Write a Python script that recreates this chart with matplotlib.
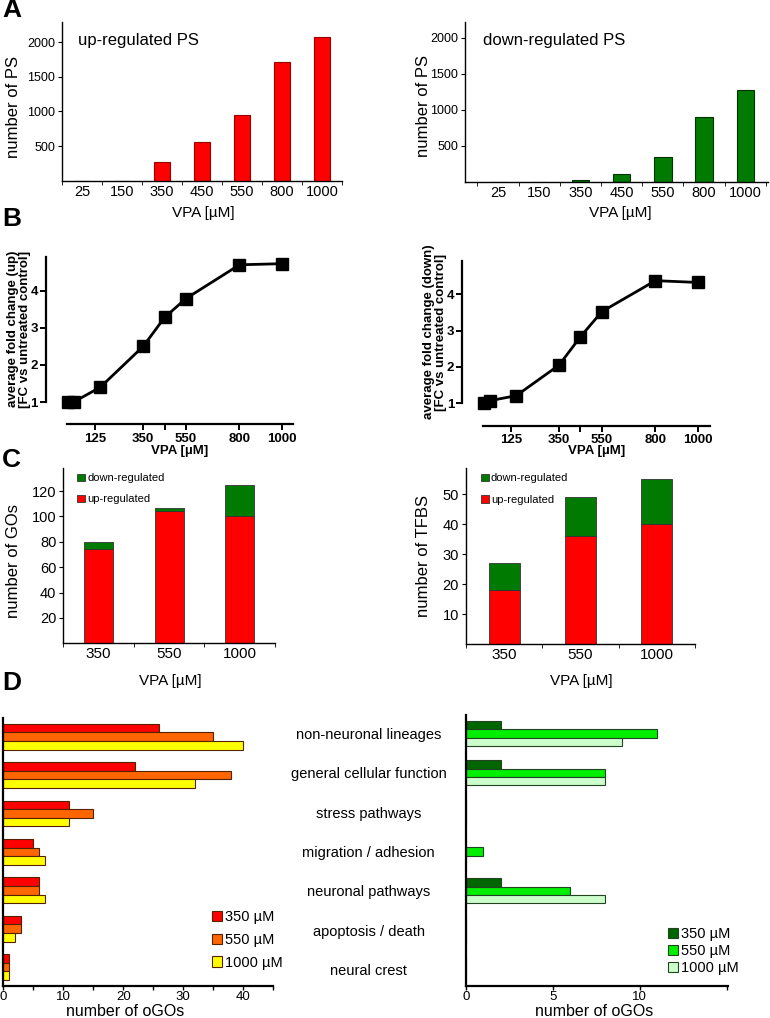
import numpy as np
import matplotlib.pyplot as plt
from matplotlib.patches import Patch

plt.rcParams['font.family'] = ['Liberation Sans', 'DejaVu Sans']

W, H = 770, 1018

# panel A: number of probe sets
doses_a = ['25', '150', '350', '450', '550', '800', '1000']
up_ps = [0, 0, 270, 560, 950, 1720, 2070]
down_ps = [0, 0, 30, 110, 340, 900, 1270]

# panel B: average fold change
vpa_b = [0, 25, 150, 350, 450, 550, 800, 1000]
fc_up = [1.0, 1.0, 1.4, 2.5, 3.28, 3.79, 4.70, 4.73]
fc_down = [1.0, 1.07, 1.21, 2.05, 2.83, 3.52, 4.37, 4.32]
b_ticks = [125, 350, 450, 550, 800, 1000]
b_ticklabels = ['125', '350', '', '550', '800', '1000']

# panel C: GOs and TFBS
doses_c = ['350', '550', '1000']
go_up = [74, 104, 100]
go_down = [6, 3, 25]
tfbs_up = [18, 36, 40]
tfbs_down = [9, 13, 15]

# panel D: oGOs per category
categories = ['non-neuronal lineages', 'general cellular function', 'stress pathways',
              'migration / adhesion', 'neuronal pathways', 'apoptosis / death', 'neural crest']
dose_labels = ['350 µM', '550 µM', '1000 µM']
up_350 = [26, 22, 11, 5, 6, 3, 1]
up_550 = [35, 38, 15, 6, 6, 3, 1]
up_1000 = [40, 32, 11, 7, 7, 2, 1]
down_350 = [2, 2, 0, 0, 2, 0, 0]
down_550 = [11, 8, 0, 1, 6, 0, 0]
down_1000 = [9, 8, 0, 0, 8, 0, 0]

RED = '#FF0000'
GREEN = '#007A00'

fig = plt.figure(figsize=(W / 100, H / 100), dpi=100)


def px_axes(l, t, r, b):
    return fig.add_axes([l / W, 1 - b / H, (r - l) / W, (b - t) / H])


def ftext(x, y, s, **kw):
    return fig.text(x / W, 1 - y / H, s, **kw)


def clean(ax, lw=1.0):
    ax.spines['top'].set_visible(False)
    ax.spines['right'].set_visible(False)
    for s in ('left', 'bottom'):
        ax.spines[s].set_linewidth(lw)


# ---- A ----
def panel_a(box, vals, color, edge, xlim, ytop, title, title_xy):
    ax = px_axes(*box)
    x = np.arange(len(doses_a))
    ax.bar(x, vals, width=0.42, color=color, edgecolor=edge, linewidth=0.8)
    ax.set_xlim(*xlim)
    ax.set_ylim(0, ytop)
    ax.set_xticks(x)
    ax.set_xticklabels(doses_a, fontsize=10.5)
    ax.tick_params(axis='x', which='major', length=0, pad=3)
    ax.set_xticks(np.arange(-0.5, len(doses_a)), minor=True)
    ax.tick_params(axis='x', which='minor', length=3, direction='out')
    ax.set_yticks([500, 1000, 1500, 2000])
    ax.tick_params(axis='y', labelsize=9, length=3, pad=2)
    clean(ax, 1.0)
    ftext(*title_xy, title, fontsize=12, ha='left', va='center')
    return ax


panel_a((62, 22, 342, 180.7), up_ps, RED, '#990000', (-0.5, 6.5), 2290,
        'up-regulated PS', (78, 40))
panel_a((465, 21.7, 768, 181.7), down_ps, GREEN, '#003300', (-0.8, 6.55), 2222,
        'down-regulated PS', (483, 40))
ftext(14, 107, 'number of PS', rotation=90, fontsize=12, ha='center', va='center')
ftext(423, 106, 'number of PS', rotation=90, fontsize=12, ha='center', va='center')
ftext(203, 213, 'VPA [µM]', fontsize=11, ha='center', va='center')
ftext(620, 213, 'VPA [µM]', fontsize=11, ha='center', va='center')


# ---- B ----
def panel_b(box, yvals, xlim, ylabel, ylab_xy, xlab_xy):
    ax = px_axes(*box)
    ax.plot(vpa_b, yvals, color='black', lw=2, marker='s', ms=8, clip_on=False)
    ax.set_xlim(*xlim)
    ax.set_ylim(1, 4.91)
    ax.spines['left'].set_position(('outward', 15))
    ax.spines['bottom'].set_position(('outward', 16))
    clean(ax, 1.6)
    ax.set_xticks(b_ticks)
    ax.set_xticklabels(b_ticklabels)
    ax.set_yticks([1, 2, 3, 4])
    ax.tick_params(length=4, width=1.4, labelsize=9.5, pad=2)
    for lbl in ax.get_xticklabels() + ax.get_yticklabels():
        lbl.set_fontweight('bold')
    ftext(*ylab_xy, ylabel, rotation=90, fontsize=9.5, fontweight='bold',
          ha='center', va='center', linespacing=1.1)
    ftext(*xlab_xy, 'VPA [µM]', fontsize=9.5, fontweight='bold', ha='center', va='center')


panel_b((67, 257, 293, 402), fc_up, (-6, 1050),
        'average fold change (up)\n[FC vs untreated control]', (19, 329), (180, 451))
panel_b((483.3, 261, 710, 403.3), fc_down, (-4, 1055),
        'average fold change (down)\n[FC vs untreated control]', (435, 332), (597, 451))


# ---- C ----
def panel_c(box, up, down, ytop, yticks, ylabel, ylab_xy, xlab_xy):
    ax = px_axes(*box)
    x = np.arange(len(doses_c))
    ax.bar(x, up, width=0.41, color=RED, edgecolor='#333333', linewidth=0.6)
    ax.bar(x, down, width=0.41, bottom=up, color=GREEN, edgecolor='#333333', linewidth=0.6)
    ax.set_xlim(-0.5, 2.5)
    ax.set_ylim(0, ytop)
    ax.set_xticks(x)
    ax.set_xticklabels(doses_c, fontsize=11)
    ax.tick_params(axis='x', which='major', length=0, pad=3)
    ax.set_xticks(np.arange(-0.5, 3), minor=True)
    ax.tick_params(axis='x', which='minor', length=3, direction='out')
    ax.set_yticks(yticks)
    ax.tick_params(axis='y', labelsize=10.5, length=3, pad=2)
    clean(ax, 1.0)
    handles = [Patch(facecolor=GREEN, edgecolor='#333333', lw=0.6, label='down-regulated'),
               Patch(facecolor=RED, edgecolor='#333333', lw=0.6, label='up-regulated')]
    ax.legend(handles=handles, loc='upper left', bbox_to_anchor=(0.05, 0.99),
              frameon=False, fontsize=8, handlelength=0.7, handleheight=0.7,
              handletextpad=0.2, labelspacing=1.0, borderaxespad=0.3, borderpad=0)
    ftext(*ylab_xy, ylabel, rotation=90, fontsize=12, ha='center', va='center')
    ftext(*xlab_xy, 'VPA [µM]', fontsize=11, ha='center', va='center')


panel_c((63.3, 468.3, 275, 643.3), go_up, go_down, 138, [20, 40, 60, 80, 100, 120],
        'number of GOs', (14, 561), (170, 681))
panel_c((466, 468.3, 695, 644), tfbs_up, tfbs_down, 58.6, [10, 20, 30, 40, 50],
        'number of TFBS', (423, 556), (581, 681))


# ---- D ----
def panel_d(box, series, colors, edge, xlim, ylim, h, major, minor, labels,
            legend_xy, legend_spacing, xlab_xy):
    ax = px_axes(*box)
    y = np.arange(len(categories))
    for i, (vals, col) in enumerate(zip(series, colors)):
        ax.barh(y + (i - 1) * h, vals, height=h, color=col, edgecolor=edge, linewidth=0.8,
                label=dose_labels[i])
    ax.set_xlim(*xlim)
    ax.set_ylim(*ylim)
    ax.set_xticks(major)
    ax.set_xticklabels(labels, fontsize=9.5)
    ax.set_xticks(minor, minor=True)
    ax.tick_params(axis='x', which='both', length=3, width=1.0, direction='out', pad=0.8)
    clean(ax, 1.6)
    ax.legend(loc='upper left', bbox_to_anchor=(legend_xy[0] / W, 1 - legend_xy[1] / H),
              bbox_transform=fig.transFigure, frameon=False, fontsize=10.5,
              handlelength=0.7, handleheight=0.7, handletextpad=0.2,
              labelspacing=legend_spacing, borderaxespad=0, borderpad=0)
    ftext(*xlab_xy, 'number of oGOs', fontsize=11.5, ha='center', va='center')
    return ax


axl = panel_d((3.3, 718.3, 273.3, 986), [up_350, up_550, up_1000],
              ['#FF0000', '#FF6600', '#FFFF00'], '#552200', (0, 45), (6.49, -0.48), 0.224,
              [0, 10, 20, 30, 40], [5, 15, 25, 35, 45], ['0', '10', '20', '30', '40'],
              (212, 910), 0.6, (125, 1011))
axl.set_yticks([])

axr = panel_d((466, 715, 728.3, 986), [down_350, down_550, down_1000],
              ['#006600', '#00EE00', '#CCFFCC'], '#224422', (0, 15.1), (6.42, -0.47), 0.212,
              [0, 5, 10, 15], [], ['0', '5', '10', ''],
              (668, 927), 0.2, (594, 1011))
axr.set_yticks(np.arange(len(categories)))
axr.set_yticklabels(categories, fontsize=10.5)
axr.tick_params(axis='y', length=0, pad=70)
for lbl in axr.get_yticklabels():
    lbl.set_horizontalalignment('center')

# panel letters
for letter, yy in [('A', 10), ('B', 219), ('C', 460), ('D', 683)]:
    ftext(2, yy, letter, fontsize=19, fontweight='bold', ha='left', va='center')

fig.savefig('out.png', dpi=100)
